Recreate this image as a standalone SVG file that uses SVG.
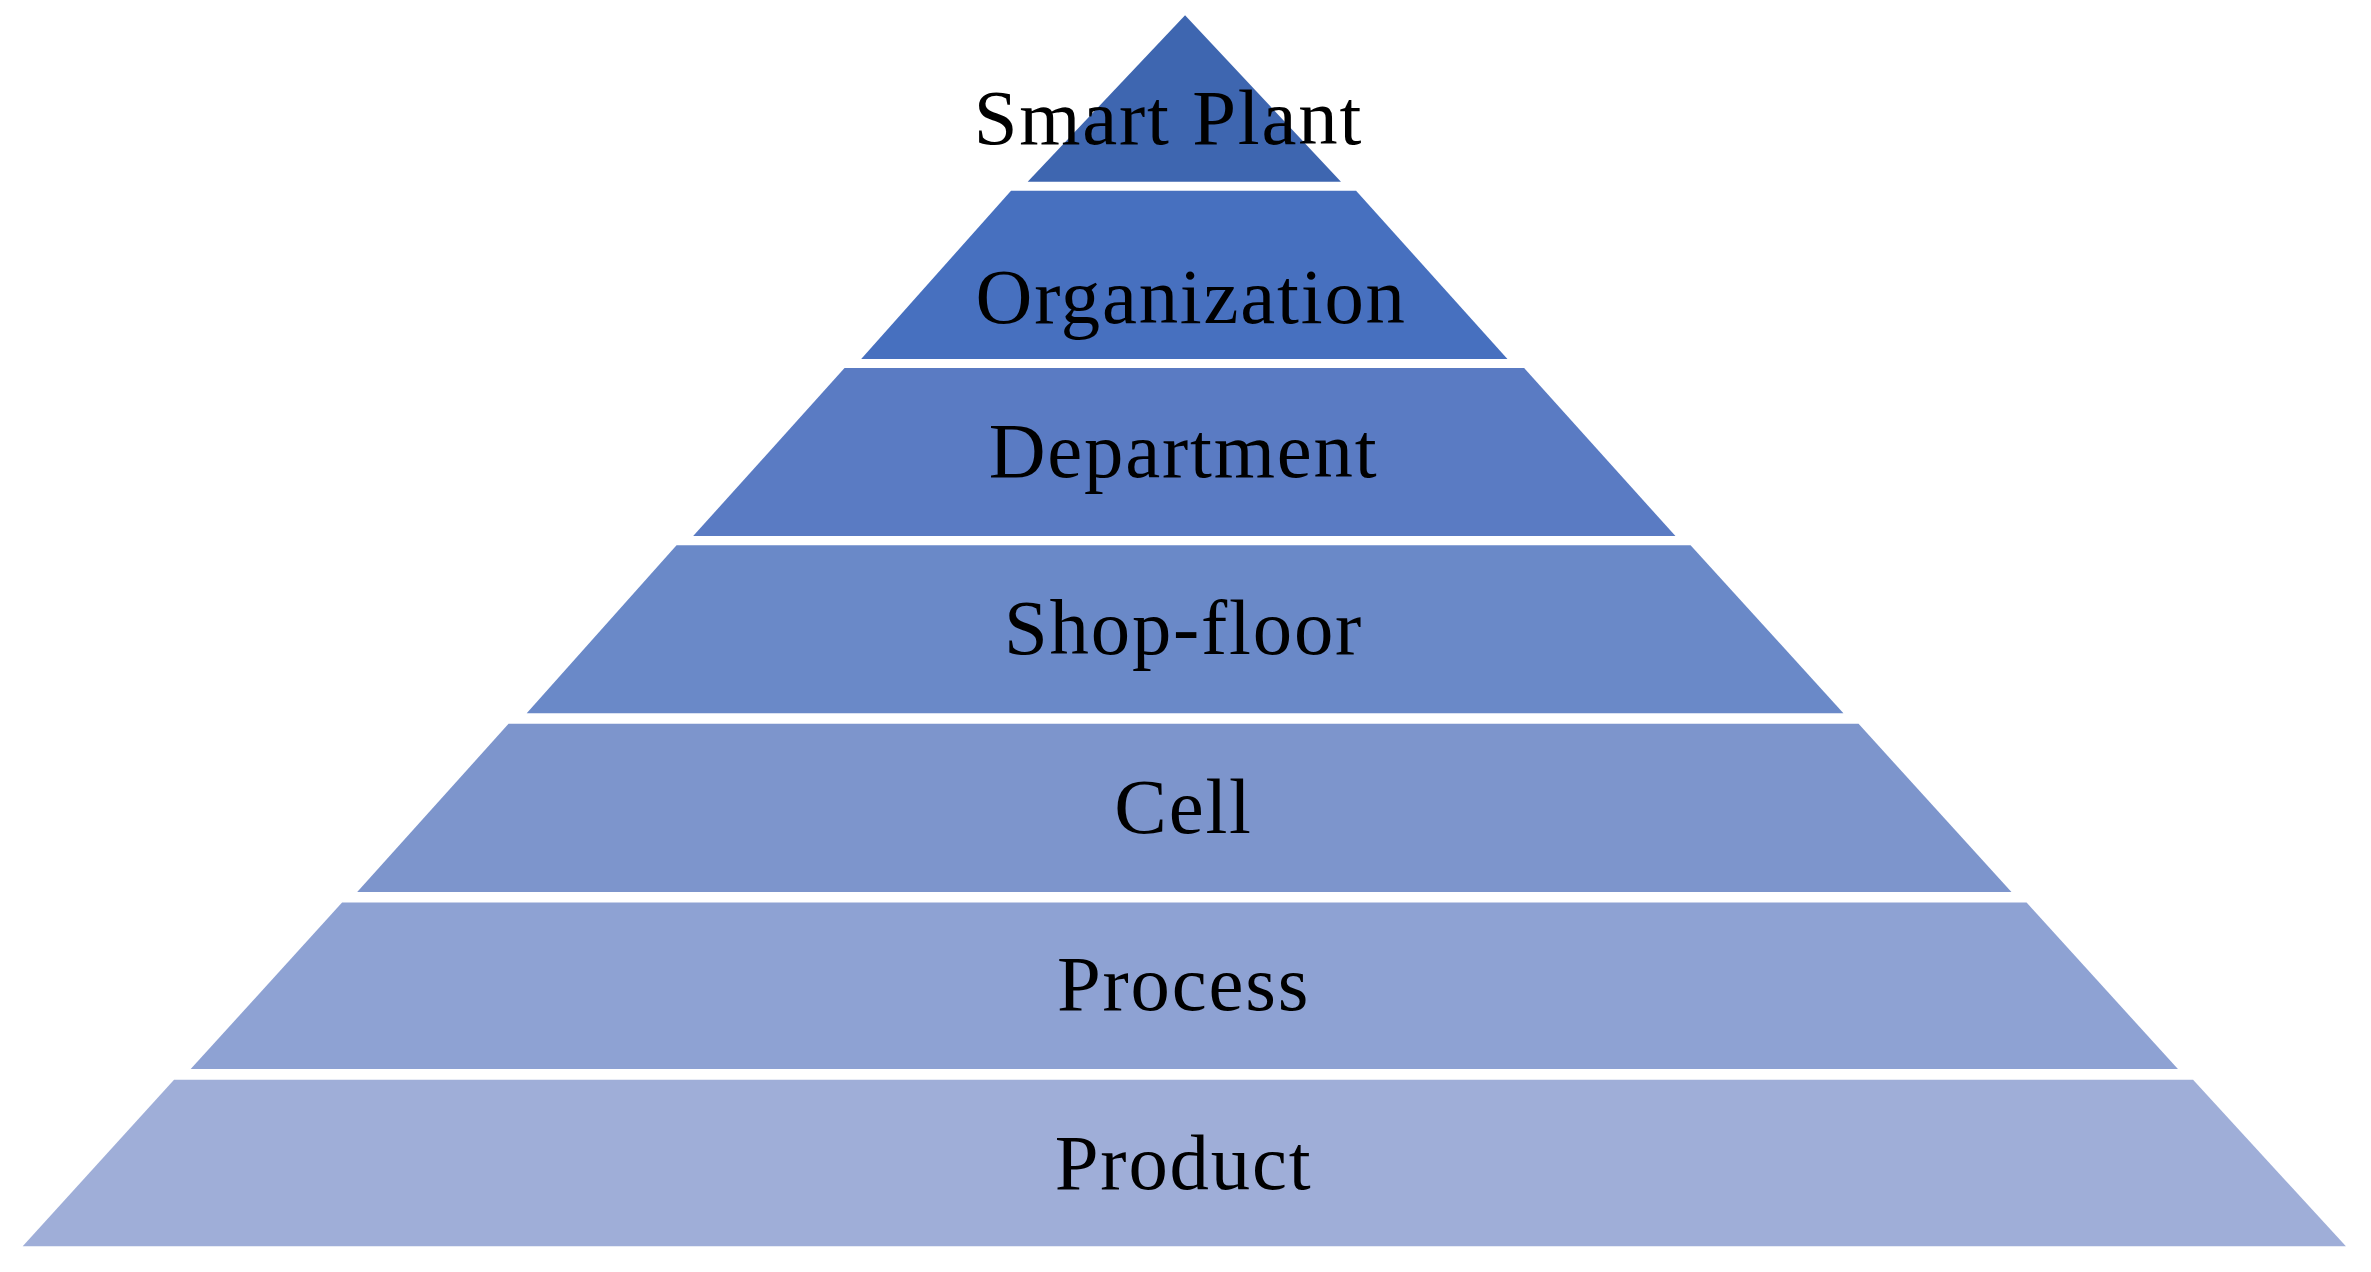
<svg xmlns="http://www.w3.org/2000/svg" width="2371" height="1272" viewBox="0 0 2371 1272">
<style>
text{font-family:"Liberation Serif",serif;font-size:52px;letter-spacing:1.2px;fill:#000;text-anchor:middle}
</style>
<rect width="2371" height="1272" fill="#fff"/>
<g transform="scale(1.5135,1.5143)">
<g id="smart-plant"><polygon points="783,10 886,120 679,120" fill="#3E66B0"/><text x="772" y="95">Smart Plant</text></g>
<g id="organization"><polygon points="668,126 896,126 996,237 569,237" fill="#4770BF"/><text x="787" y="213">Organization</text></g>
<g id="department"><polygon points="558,243 1007,243 1107,354 458,354" fill="#5A7BC3"/><text x="782" y="315">Department</text></g>
<g id="shop-floor"><polygon points="447,360 1117,360 1218,471 348,471" fill="#6A89C8"/><text x="782" y="432">Shop-floor</text></g>
<g id="cell"><polygon points="336,478 1228,478 1329,589 236,589" fill="#7D95CC"/><text x="782" y="550">Cell</text></g>
<g id="process"><polygon points="226,596 1339,596 1439,706 126,706" fill="#8EA2D3"/><text x="782" y="667">Process</text></g>
<g id="product"><polygon points="115,713 1449,713 1550,823 15,823" fill="#9FAED8"/><text x="782" y="785">Product</text></g>
<g id="connectors"/>
</g>
</svg>
